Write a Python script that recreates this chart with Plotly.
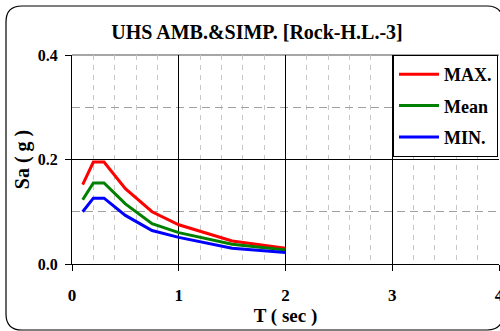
import plotly.graph_objects as go

T = [0.1, 0.2, 0.3, 0.5, 0.75, 1.0, 1.5, 2.0]
SA_MAX = [0.152, 0.195, 0.195, 0.144, 0.100, 0.075, 0.044, 0.030]
SA_MEAN = [0.123, 0.155, 0.155, 0.115, 0.077, 0.060, 0.038, 0.027]
SA_MIN = [0.100, 0.126, 0.126, 0.093, 0.064, 0.051, 0.030, 0.022]

series = [("MAX.", SA_MAX, "#ff0000"), ("Mean", SA_MEAN, "#008000"), ("MIN.", SA_MIN, "#0000ff")]

FONT = "Liberation Serif, Times New Roman, serif"

fig = go.Figure()
for i, (name, vals, col) in enumerate(series):
    fig.add_trace(go.Scatter(x=T, y=vals, mode="lines", name=name, legendgroup=str(i),
                             line=dict(color=col, width=3)))

W, H = 500, 331
L, R, TOP, B = 72, 1, 55, 67
pw, ph = W - L - R, H - TOP - B

def px(x):
    return (x - L) / pw

def py(y):
    return (H - B - y) / ph

# rounded outer frame
x0, y0, x1, y1, r = 6, 6, 503, 330, 16
path = (f"M {px(x0+r)},{py(y0)} L {px(x1-r)},{py(y0)} Q {px(x1)},{py(y0)} {px(x1)},{py(y0+r)} "
        f"L {px(x1)},{py(y1-r)} Q {px(x1)},{py(y1)} {px(x1-r)},{py(y1)} "
        f"L {px(x0+r)},{py(y1)} Q {px(x0)},{py(y1)} {px(x0)},{py(y1-r)} "
        f"L {px(x0)},{py(y0+r)} Q {px(x0)},{py(y0)} {px(x0+r)},{py(y0)} Z")

fig.update_layout(
    width=W, height=H,
    margin=dict(l=L, r=R, t=TOP, b=B, autoexpand=False),
    paper_bgcolor="white", plot_bgcolor="white",
    font=dict(family=FONT, color="black", size=16, weight="bold"),
    title=dict(text="UHS AMB.&SIMP. [Rock-H.L.-3]", x=257 / W, xref="container", xanchor="center",
               y=1 - 32 / H, yanchor="middle", yref="container",
               font=dict(size=20, family=FONT, weight="bold")),
    showlegend=True,
    legend=dict(x=px(393), y=1, xanchor="left", yanchor="top",
                bgcolor="white", bordercolor="black", borderwidth=1,
                font=dict(size=18, family=FONT, weight="bold"),
                traceorder="grouped", tracegroupgap=5, itemwidth=40),
    shapes=[
        dict(type="path", path=path, xref="paper", yref="paper",
             line=dict(color="black", width=1.2), layer="above"),
        dict(type="line", xref="paper", yref="paper", x0=0, x1=1, y0=1, y1=1,
             line=dict(color="#888888", width=1.5), layer="below"),
    ],
    xaxis=dict(range=[0, 4], tickvals=[0, 1, 2, 3, 4], ticks="outside", ticklen=6,
               tickcolor="black", showline=True, linecolor="black", linewidth=1,
               showgrid=True, gridcolor="black", gridwidth=1, zeroline=False,
               ticklabelstandoff=10, tickfont=dict(size=17), ticklabeloverflow="allow",
               automargin=False,
               minor=dict(dtick=0.2, showgrid=True, gridcolor="#c8c8c8", griddash="5px,5px",
                          gridwidth=1, ticks=""),
               title=dict(text="T ( sec )", standoff=0, font=dict(size=19))),
    yaxis=dict(range=[0, 0.4], tickvals=[0, 0.2, 0.4], ticktext=["0.0", "0.2", "0.4"],
               ticks="outside", ticklen=6, tickcolor="black",
               showline=True, linecolor="black", linewidth=1,
               showgrid=True, gridcolor="black", gridwidth=1, zeroline=False,
               ticklabelstandoff=4, tickfont=dict(size=16), ticklabeloverflow="allow",
               automargin=False,
               minor=dict(dtick=0.1, showgrid=True, gridcolor="#a0a0a0", griddash="8px,5px",
                          gridwidth=1, ticks=""),
               title=dict(text="Sa ( g )", standoff=2, font=dict(size=20))),
)

fig.write_html("out.html", config={"displayModeBar": False},
               post_script="document.body.style.margin='0';")
